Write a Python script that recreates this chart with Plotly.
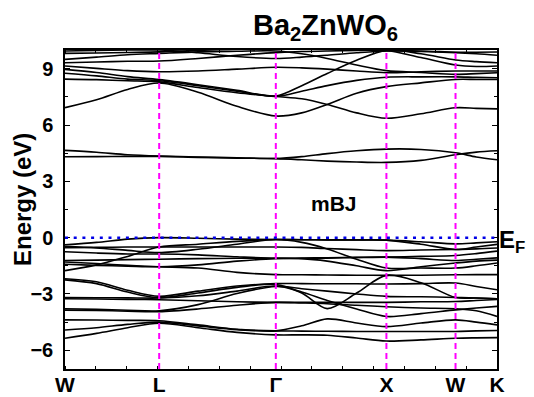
import plotly.graph_objects as go

# High-symmetry points along the path W-L-Γ-X-W-K (fractional path length)
K_POINTS = [0.0, 0.218, 0.488, 0.744, 0.904, 1.0]
K_LABELS = ["W", "L", "Γ", "X", "W", "K"]

# k-nodes at which band energies are sampled
K_NODES = [0.0, 0.073, 0.145, 0.218, 0.308, 0.398, 0.488, 0.548, 0.607, 0.675,
           0.744, 0.824, 0.904, 0.952, 1.0]

# Conduction bands (eV)
CB1 = [6.93, 7.35, 7.90, 8.24, 7.75, 7.00, 6.48, 6.65, 7.10, 7.70, 8.05, 8.25, 8.43, 8.43, 8.43]
CB2 = [8.45, 8.42, 8.36, 8.30, 8.00, 7.72, 7.52, 7.40, 7.10, 6.65, 6.36, 6.60, 6.92, 6.89, 6.86]
CB3 = [8.76, 8.62, 8.45, 8.36, 8.10, 7.80, 7.53, 7.80, 8.10, 8.38, 8.55, 8.57, 8.57, 8.54, 8.52]
CB4 = [8.97, 8.80, 8.58, 8.42, 8.15, 7.85, 7.55, 8.10, 8.75, 9.45, 9.98, 9.80, 9.47, 9.38, 9.32]
CB5 = [9.15, 9.02, 8.90, 8.84, 8.88, 8.98, 9.08, 9.05, 8.98, 8.88, 8.79, 8.84, 8.88, 8.88, 8.88]
CB6 = [9.32, 9.36, 9.40, 9.41, 9.55, 9.72, 9.86, 9.92, 9.95, 9.97, 9.98, 9.60, 9.20, 9.12, 9.15]
CB7 = [9.50, 9.62, 9.75, 9.82, 9.90, 9.93, 9.95, 9.80, 9.55, 9.20, 8.90, 8.80, 8.70, 8.74, 8.79]
CB8 = [9.82, 9.84, 9.87, 9.90, 9.98, 10.05, 10.1, 10.1, 10.05, 10.0, 9.98, 9.92, 9.86, 9.80, 9.72]
CB9 = [9.95, 9.97, 10.0, 10.0, 9.85, 9.65, 9.55, 9.62, 9.72, 9.85, 9.95, 9.95, 9.88, 9.88, 9.89]

# Isolated bands in the gap region (eV)
M1 = [4.65, 4.55, 4.42, 4.35, 4.30, 4.26, 4.22, 4.32, 4.48, 4.63, 4.72, 4.70, 4.52, 4.30, 4.15]
M2 = [4.31, 4.32, 4.33, 4.33, 4.28, 4.24, 4.21, 4.15, 4.08, 4.03, 4.01, 4.12, 4.42, 4.56, 4.63]

# Valence bands (eV)
A1 = [-0.38, -0.25, -0.08, 0.00, -0.03, -0.08, -0.10, -0.11, -0.12, -0.12, -0.13, -0.22, -0.33, -0.28, -0.22]
A2 = [-0.46, -0.55, -0.68, -0.80, -0.62, -0.35, -0.10, -0.25, -0.60, -1.15, -1.62, -1.62, -1.62, -1.50, -1.35]
A3 = [-0.54, -0.52, -0.50, -0.50, -0.50, -0.50, -0.50, -0.52, -0.58, -0.64, -0.69, -0.66, -0.63, -0.60, -0.55]
A4 = [-0.75, -0.82, -0.87, -0.87, -0.92, -1.02, -1.10, -1.09, -1.07, -1.05, -1.04, -1.12, -1.22, -1.15, -1.08]
A5 = [-1.22, -1.20, -1.17, -1.15, -1.12, -1.10, -1.10, -1.12, -1.25, -1.50, -1.76, -1.55, -1.35, -1.25, -1.20]
A6 = [-1.30, -1.38, -1.48, -1.55, -1.62, -1.85, -1.97, -1.98, -1.99, -2.00, -2.01, -2.00, -1.98, -1.97, -1.97]
A7 = [-1.42, -1.48, -1.52, -1.55, -1.45, -1.25, -1.12, -1.11, -1.09, -1.06, -1.04, -1.00, -0.95, -0.85, -0.72]
A8 = [-1.76, -1.45, -1.00, -0.50, -0.35, -0.20, -0.10, -0.11, -0.12, -0.12, -0.13, -0.35, -0.63, -0.50, -0.36]

B1 = [-2.19, -2.35, -2.80, -3.12, -2.85, -2.58, -2.45, -2.45, -2.46, -2.46, -2.47, -2.45, -2.42, -2.60, -2.78]
B2 = [-2.25, -2.45, -2.90, -3.20, -2.95, -2.65, -2.50, -2.95, -3.78, -2.95, -2.01, -2.40, -3.19, -3.22, -3.26]
B3 = [-3.19, -3.20, -3.21, -3.22, -3.10, -2.85, -2.58, -2.90, -3.35, -3.80, -4.20, -4.05, -3.85, -3.75, -3.66]
B4 = [-3.26, -3.27, -3.29, -3.31, -3.36, -3.42, -3.45, -3.45, -3.45, -3.45, -3.45, -3.42, -3.40, -3.35, -3.30]
B5 = [-3.79, -3.82, -3.87, -3.90, -3.57, -2.98, -2.60, -2.72, -2.85, -3.00, -3.13, -3.15, -3.19, -3.22, -3.26]
B6 = [-3.86, -3.88, -3.92, -3.94, -3.80, -3.60, -3.45, -3.48, -3.52, -3.60, -3.68, -3.75, -3.79, -3.90, -4.20]

C1 = [-4.38, -4.39, -4.41, -4.43, -4.65, -4.88, -4.97, -4.70, -4.33, -4.55, -4.74, -4.55, -4.38, -4.50, -4.65]
C2 = [-4.92, -4.80, -4.62, -4.50, -4.70, -4.90, -4.97, -4.98, -4.99, -5.00, -5.00, -5.00, -5.00, -4.97, -4.95]
C3 = [-5.36, -5.10, -4.80, -4.56, -4.80, -5.05, -5.18, -5.18, -5.20, -5.35, -5.51, -5.45, -5.36, -5.34, -5.33]

BANDS = [CB1, CB2, CB3, CB4, CB5, CB6, CB7, CB8, CB9, M1, M2,
         A1, A2, A3, A4, A5, A6, A7, A8, B1, B2, B3, B4, B5, B6, C1, C2, C3]

FONT = "Arial, Liberation Sans, sans-serif"

fig = go.Figure()
for band in BANDS:
    fig.add_trace(go.Scatter(
        x=K_NODES, y=band, mode="lines",
        line=dict(color="black", width=1.6, shape="spline", smoothing=0.9),
        showlegend=False, hoverinfo="skip"))

# Vertical dashed guides at interior high-symmetry points
for kp in K_POINTS[1:-1]:
    fig.add_shape(type="line", xref="x", yref="paper", x0=kp, x1=kp, y0=0, y1=1,
                  line=dict(color="#FF00FF", width=2, dash="6px,4px"), layer="above")

# Fermi level
fig.add_shape(type="line", xref="paper", yref="y", x0=0, x1=1, y0=0, y1=0,
              line=dict(color="#0000E6", width=2.5, dash="3px,5.7px"), layer="above")

fig.update_layout(
    width=534, height=397,
    margin=dict(l=65, r=37, t=50, b=28, autoexpand=False),
    paper_bgcolor="white", plot_bgcolor="white",
    font=dict(family=FONT, color="black"),
    xaxis=dict(
        range=[0, 1], showgrid=False, zeroline=False, automargin=False,
        showline=True, linecolor="black", linewidth=1.5, mirror="allticks",
        tickmode="array", tickvals=K_POINTS, ticktext=K_LABELS, ticks="",
        tickfont=dict(family=FONT, size=21, weight="bold"),
        ticklabelstandoff=-4,
        minor=dict(tickmode="linear", tick0=0, dtick=1 / 14, ticks="inside",
                   ticklen=3, tickcolor="black", tickwidth=1),
    ),
    yaxis=dict(
        range=[-7, 10], showgrid=False, zeroline=False, automargin=False,
        showline=True, linecolor="black", linewidth=1.5, mirror="allticks",
        tickmode="array", tickvals=[-6, -3, 0, 3, 6, 9], ticks="inside",
        ticklen=5, tickwidth=1.2, tickcolor="black",
        tickfont=dict(family=FONT, size=20, weight="bold"),
        ticklabelstandoff=6,
        minor=dict(tickmode="linear", tick0=0, dtick=1.5, ticks="inside",
                   ticklen=3, tickcolor="black", tickwidth=1),
    ),
    annotations=[
        dict(text="Ba<sub>2</sub>ZnWO<sub>6</sub>", xref="paper", yref="paper",
             x=0.602, y=1.0, xanchor="center", yanchor="bottom", yshift=3,
             showarrow=False, font=dict(family=FONT, size=29, weight="bold")),
        dict(text="Energy (eV)", xref="paper", yref="paper", x=-0.097, y=0.53,
             textangle=-90, xanchor="center", yanchor="middle",
             showarrow=False, font=dict(family=FONT, size=24, weight="bold")),
        dict(text="mBJ", xref="paper", yref="y", x=0.622, y=1.8,
             xanchor="center", yanchor="middle",
             showarrow=False, font=dict(family=FONT, size=21, weight="bold")),
        dict(text="E<sub>F</sub>", xref="paper", yref="y", x=1.0, y=0,
             xanchor="left", yanchor="middle", xshift=0, yshift=-4,
             showarrow=False, font=dict(family=FONT, size=24, weight="bold")),
    ],
)

fig.write_html("out.html")
